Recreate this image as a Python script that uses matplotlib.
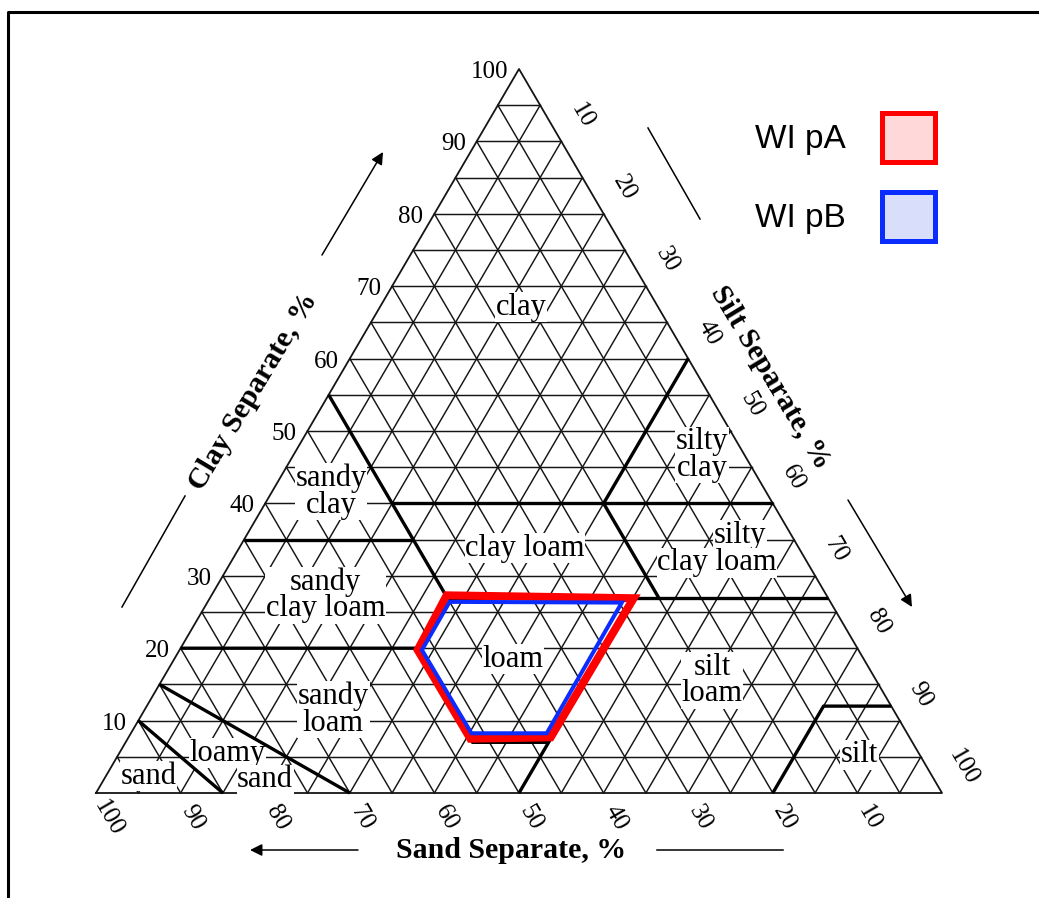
import numpy as np
import matplotlib
matplotlib.use('Agg')
import matplotlib.pyplot as plt
import matplotlib.transforms as mtransforms
from matplotlib.patches import Polygon, Patch
from matplotlib.lines import Line2D

W, H = 1039, 898

# tick values on the three axes
tick_vals = [10, 20, 30, 40, 50, 60, 70, 80, 90, 100]
grid_vals = list(range(5, 100, 5))

# USDA texture class boundaries, (sand %, clay %) pairs
boundaries = [
    [(45, 55), (45, 27)],
    [(45, 40), (0, 40)],
    [(0, 60), (20, 40), (20, 27)],
    [(65, 35), (45, 35)],
    [(45, 27), (0, 27)],
    [(80, 20), (52, 20), (52, 7), (43, 7)],
    [(52, 20), (45, 27)],
    [(23, 27), (50, 0)],
    [(20, 0), (8, 12), (0, 12)],
    [(85, 15), (70, 0)],
    [(90, 10), (85, 0)],
]

# texture class names
class_names = ['clay', 'sandy\nclay', 'silty\nclay', 'clay loam', 'silty',
               'clay loam', 'sandy\nclay loam', 'loam', 'silt\nloam',
               'sandy\nloam', 'loamy', 'sand', 'sand', 'silt']
# where each name sits, (sand %, clay %)
class_pos = [(16.2, 67.1), (51.4, 41.6), (5.0, 46.7), (32.4, 33.8), (6.1, 35.6),
             (10.7, 31.8), (59.2, 27.3), (41.5, 18.5), (19.4, 15.5),
             (66.2, 11.5), (81.7, 5.5), (79.1, 1.8), (92.6, 2.3), (7.1, 5.25)]

# sample ranges (sand %, clay %)
series_names = ['WI pA', 'WI pB']
pA_sand = [44.9, 23.0, 42.4, 52.0, 52.1]
pA_clay = [27.3, 26.9, 7.7, 7.5, 19.75]
pB_sand = [45.0, 24.7, 42.6, 51.5, 51.6]
pB_clay = [26.4, 26.3, 8.25, 8.25, 19.75]


def tern(sand, clay):
    sand = np.asarray(sand, float)
    clay = np.asarray(clay, float)
    return 100 - sand - clay / 2, clay * np.sqrt(3) / 2


plt.rcParams['font.family'] = ['Liberation Serif', 'DejaVu Serif']
fig = plt.figure(figsize=(W / 100, H / 100), dpi=100)
ax = fig.add_axes([0, 0, 1, 1])
ax.set_xlim(-96 / 8.46, (W - 96) / 8.46)
ax.set_ylim(-(H - 793) / 8.36, 793 / 8.36)
ax.axis('off')

# pixel transform (y from top) for the layout bits
pix = mtransforms.Affine2D().scale(1 / W, -1 / H).translate(0, 1) + fig.transFigure

gc = '#151515'
for v in grid_vals:
    for s, c in [((100 - v, 0), (v, v)), ((v, v), (0, 100 - v)), ((100 - v, 0), (0, 100 - v))]:
        x, y = tern(s, c)
        ax.plot(x, y, color=gc, lw=1.05, zorder=1)
x, y = tern([100, 0, 0, 100], [0, 0, 100, 0])
ax.plot(x, y, color=gc, lw=1.3, zorder=1)

for seg in boundaries:
    s, c = zip(*seg)
    x, y = tern(s, c)
    ax.plot(x, y, color='black', lw=2.4, zorder=3, solid_capstyle='butt')

for name, (s, c) in zip(class_names, class_pos):
    x, y = tern(s, c)
    ax.text(x, y, name, fontsize=22, ha='center', va='center', linespacing=0.88,
            zorder=2, bbox=dict(facecolor='white', edgecolor='none', pad=0.5))

# tick labels
for v in tick_vals:
    x, y = tern(100 - v, v)
    tr = mtransforms.offset_copy(ax.transData, fig, x=-11, y=-3, units='dots')
    ax.text(x, y, str(v), transform=tr, fontsize=18, ha='right', va='center')
    x, y = tern(0, 100 - v)
    tr = mtransforms.offset_copy(ax.transData, fig, x=21, y=26, units='dots')
    ax.text(x, y, str(v), transform=tr, fontsize=18, ha='center', va='center',
            rotation=-60, rotation_mode='anchor')
    x, y = tern(v, 0)
    tr = mtransforms.offset_copy(ax.transData, fig, x=12, y=-25, units='dots')
    ax.text(x, y, str(v), transform=tr, fontsize=18, ha='center', va='center',
            rotation=-60, rotation_mode='anchor')

# sample polygons
for s, c, col, lw in [(pA_sand, pA_clay, '#ff0000', 5.8), (pB_sand, pB_clay, '#0a2cff', 2.9)]:
    x, y = tern(s, c)
    ax.add_patch(Polygon(np.column_stack([x, y]), closed=True, fill=False,
                         edgecolor=col, lw=lw, joinstyle='miter', zorder=4))

# axis titles and arrows
fig.text(253, 392, 'Clay Separate, %', transform=pix, fontsize=21.5, fontweight='bold',
         rotation=59, ha='center', va='center')
fig.text(770, 377, 'Silt Separate, %', transform=pix, fontsize=21.5, fontweight='bold',
         rotation=-59, ha='center', va='center')
fig.text(511, 850, 'Sand Separate, %', transform=pix, fontsize=21.5, fontweight='bold',
         ha='center', va='center')
ap = dict(arrowstyle='-|>', color='black', lw=1.1, mutation_scale=18, shrinkA=0, shrinkB=0)
for (x0, y0), (x1, y1) in [((322, 255), (383, 152)), ((848, 500), (912, 607)), ((358, 850), (250, 850))]:
    ax.annotate('', xy=(x1, y1), xytext=(x0, y0), xycoords=pix, textcoords=pix, arrowprops=ap)
for (x0, y0), (x1, y1) in [((122, 607), (185, 496)), ((648, 128), (700, 219)), ((657, 850), (783, 850))]:
    fig.add_artist(Line2D([x0, x1], [y0, y1], transform=pix, color='black', lw=1.1))

# frame (top and left only)
fig.add_artist(Line2D([7.5, 7.5, W], [H, 11.5, 11.5], transform=pix, color='black', lw=2.2))

handles = [Patch(facecolor='#ffd9d9', edgecolor='#ff0000', lw=3.6),
           Patch(facecolor='#d9defa', edgecolor='#0a2cff', lw=3.6)]
fig.legend(handles, series_names, loc='upper right', bbox_to_anchor=(952, 96),
           bbox_transform=pix, frameon=False, markerfirst=False, borderpad=0,
           prop={'family': 'Liberation Sans', 'size': 24}, handlelength=1.6,
           handleheight=1.9, handletextpad=1.1, labelspacing=0.9)

fig.savefig('out.png', dpi=100)
